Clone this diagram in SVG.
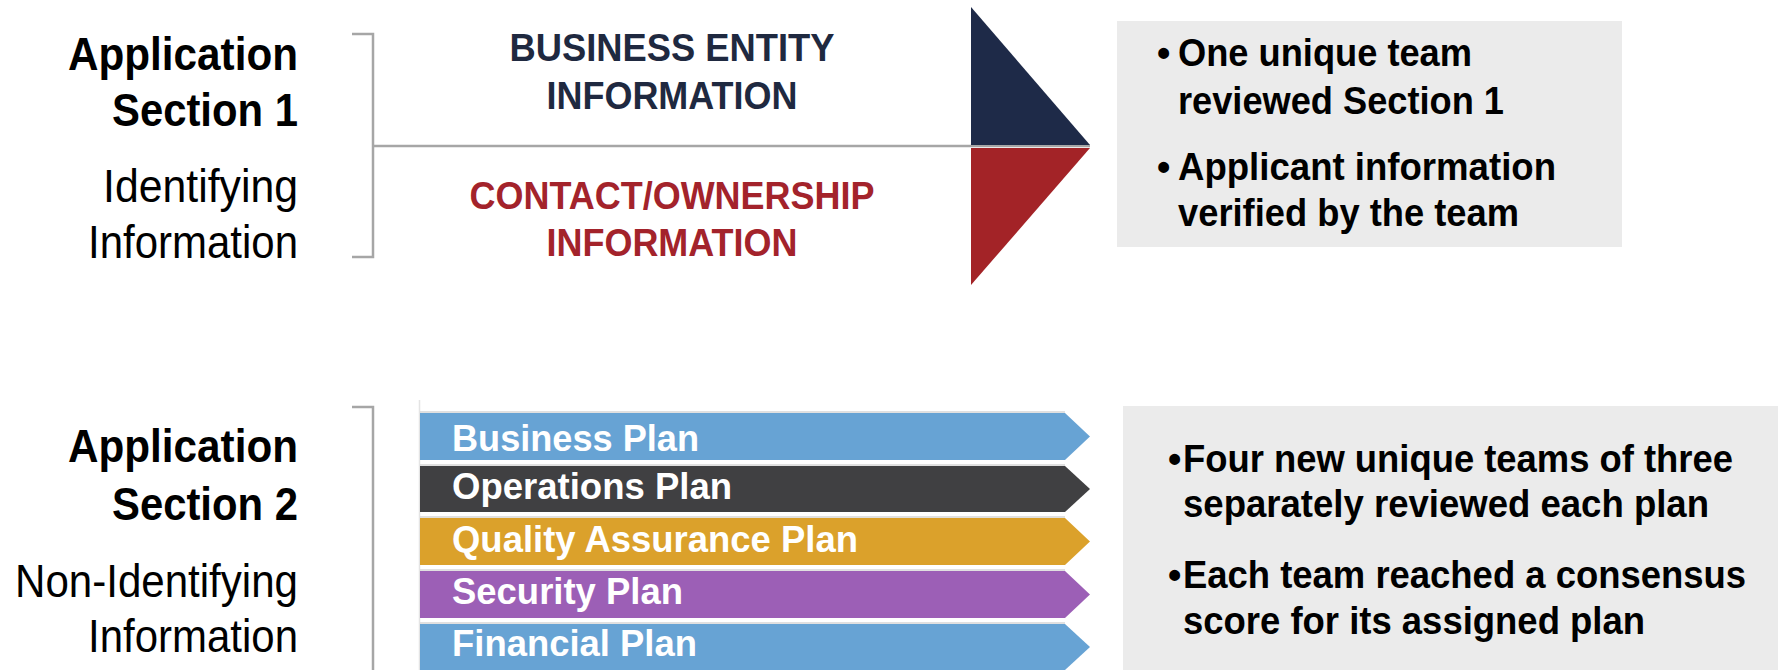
<svg xmlns="http://www.w3.org/2000/svg" width="1778" height="670" viewBox="0 0 1778 670">
  <style>
    .title { font-family: "Liberation Sans", Arial, sans-serif; font-size: 46px; font-weight: bold; fill: #000; text-anchor: end; }
    .sub { font-family: "Liberation Sans", Arial, sans-serif; font-size: 46px; fill: #000; text-anchor: end; }
    .cap { font-family: "Liberation Sans", Arial, sans-serif; font-size: 38px; font-weight: bold; text-anchor: middle; }
    .navy { fill: #1f2940; }
    .red { fill: #a3232b; }
    .note { font-family: "Liberation Sans", Arial, sans-serif; font-size: 38px; font-weight: bold; fill: #000; }
    .plan { font-family: "Liberation Sans", Arial, sans-serif; font-size: 37px; font-weight: bold; fill: #fff; }
    .bracket { fill: none; stroke: #a6a6a6; stroke-width: 2.5; }
    .panel { fill: #ebebeb; }
    .edge { stroke: #d6d6d6; stroke-width: 1.5; }
  </style>

  <rect width="1778" height="670" fill="#fff"/>

  <!-- connectors: brackets and divider -->
  <g id="connectors">
    <path class="bracket" d="M352 34 H373 V257 H352"/>
    <line x1="373" y1="146" x2="1090" y2="146" stroke="#a6a6a6" stroke-width="2.5"/>
    <path class="bracket" d="M352 407 H373 V670"/>
    <line x1="419.5" y1="400" x2="419.5" y2="670" stroke="#e4e4e4" stroke-width="1.5"/>
  </g>

  <!-- Section 1 label -->
  <g id="section1-label">
    <text class="title" x="298" y="70" textLength="230" lengthAdjust="spacingAndGlyphs">Application</text>
    <text class="title" x="298" y="126" textLength="186" lengthAdjust="spacingAndGlyphs">Section 1</text>
    <text class="sub" x="298" y="202" textLength="195" lengthAdjust="spacingAndGlyphs">Identifying</text>
    <text class="sub" x="298" y="258" textLength="210" lengthAdjust="spacingAndGlyphs">Information</text>
  </g>

  <g id="business-entity">
    <text class="cap navy" x="672" y="61" textLength="325" lengthAdjust="spacingAndGlyphs">BUSINESS ENTITY</text>
    <text class="cap navy" x="672" y="109" textLength="251" lengthAdjust="spacingAndGlyphs">INFORMATION</text>
  </g>

  <g id="contact-ownership">
    <text class="cap red" x="672" y="209" textLength="405" lengthAdjust="spacingAndGlyphs">CONTACT/OWNERSHIP</text>
    <text class="cap red" x="672" y="256" textLength="251" lengthAdjust="spacingAndGlyphs">INFORMATION</text>
  </g>

  <!-- split arrowhead -->
  <g id="section1-arrow">
    <polygon points="971,7 1090,145 971,145" fill="#1e2a48"/>
    <polygon points="971,148 1090,148 971,285" fill="#a32327"/>
  </g>

  <g id="section1-notes">
    <rect class="panel" x="1117" y="21" width="505" height="226"/>
    <text class="note" x="1157" y="66">•</text>
    <text class="note" x="1178" y="66" textLength="294" lengthAdjust="spacingAndGlyphs">One unique team</text>
    <text class="note" x="1178" y="114" textLength="326" lengthAdjust="spacingAndGlyphs">reviewed Section 1</text>
    <text class="note" x="1157" y="180">•</text>
    <text class="note" x="1178" y="180" textLength="378" lengthAdjust="spacingAndGlyphs">Applicant information</text>
    <text class="note" x="1178" y="226" textLength="341" lengthAdjust="spacingAndGlyphs">verified by the team</text>
  </g>

  <!-- Section 2 label -->
  <g id="section2-label">
    <text class="title" x="298" y="462" textLength="230" lengthAdjust="spacingAndGlyphs">Application</text>
    <text class="title" x="298" y="520" textLength="186" lengthAdjust="spacingAndGlyphs">Section 2</text>
    <text class="sub" x="298" y="597" textLength="283" lengthAdjust="spacingAndGlyphs">Non-Identifying</text>
    <text class="sub" x="298" y="652" textLength="210" lengthAdjust="spacingAndGlyphs">Information</text>
  </g>

  <!-- plan arrows -->
  <g id="plan-business">
    <polygon points="420,413 1065,413 1090,436.5 1065,460 420,460" fill="#67a3d4"/>
    <line class="edge" x1="420" y1="412" x2="1065" y2="412"/>
    <text class="plan" x="452" y="451" textLength="247" lengthAdjust="spacingAndGlyphs">Business Plan</text>
  </g>
  <g id="plan-operations">
    <polygon points="420,466 1065,466 1090,489 1065,512 420,512" fill="#404042"/>
    <line class="edge" x1="420" y1="465" x2="1065" y2="465"/>
    <text class="plan" x="452" y="499" textLength="280" lengthAdjust="spacingAndGlyphs">Operations Plan</text>
  </g>
  <g id="plan-quality">
    <polygon points="420,518 1065,518 1090,541.5 1065,565 420,565" fill="#dba12b"/>
    <line class="edge" x1="420" y1="517" x2="1065" y2="517"/>
    <text class="plan" x="452" y="552" textLength="406" lengthAdjust="spacingAndGlyphs">Quality Assurance Plan</text>
  </g>
  <g id="plan-security">
    <polygon points="420,571 1065,571 1090,594.5 1065,618 420,618" fill="#9c5fb6"/>
    <line class="edge" x1="420" y1="570" x2="1065" y2="570"/>
    <text class="plan" x="452" y="604" textLength="231" lengthAdjust="spacingAndGlyphs">Security Plan</text>
  </g>
  <g id="plan-financial">
    <polygon points="420,624 1065,624 1090,647 1065,670 420,670" fill="#67a3d4"/>
    <line class="edge" x1="420" y1="623" x2="1065" y2="623"/>
    <text class="plan" x="452" y="656" textLength="245" lengthAdjust="spacingAndGlyphs">Financial Plan</text>
  </g>

  <g id="section2-notes">
    <rect class="panel" x="1123" y="406" width="655" height="264"/>
    <text class="note" x="1168" y="472">•</text>
    <text class="note" x="1183" y="472" textLength="550" lengthAdjust="spacingAndGlyphs">Four new unique teams of three</text>
    <text class="note" x="1183" y="517" textLength="526" lengthAdjust="spacingAndGlyphs">separately reviewed each plan</text>
    <text class="note" x="1168" y="588">•</text>
    <text class="note" x="1183" y="588" textLength="563" lengthAdjust="spacingAndGlyphs">Each team reached a consensus</text>
    <text class="note" x="1183" y="634" textLength="462" lengthAdjust="spacingAndGlyphs">score for its assigned plan</text>
  </g>
</svg>
